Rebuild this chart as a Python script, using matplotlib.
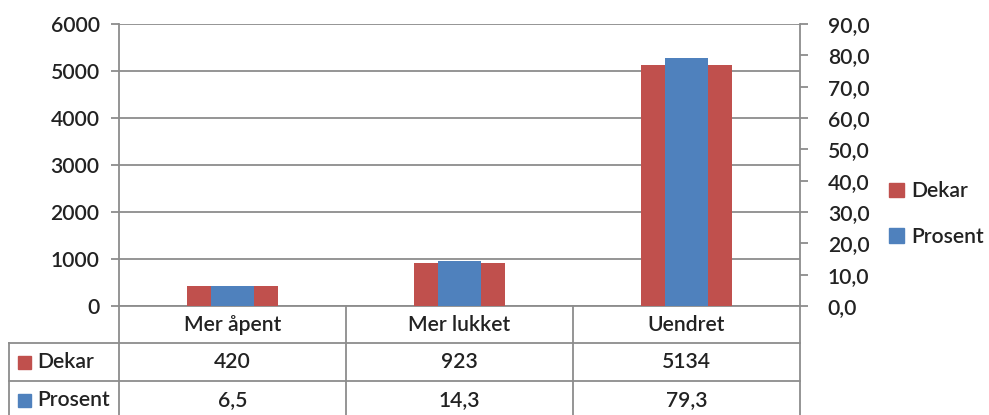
import matplotlib
matplotlib.use("Agg")
import matplotlib.pyplot as plt
from matplotlib.patches import Patch, Rectangle
import numpy as np

categories = ["Mer åpent", "Mer lukket", "Uendret"]
dekar = [420, 923, 5134]
prosent = [6.5, 14.3, 79.3]
dekar_labels = ["420", "923", "5134"]
prosent_labels = ["6,5", "14,3", "79,3"]
series_names = ["Dekar", "Prosent"]
left_ticks = [0, 1000, 2000, 3000, 4000, 5000, 6000]
right_ticks = [0, 10, 20, 30, 40, 50, 60, 70, 80, 90]

RED = "#C0504D"
BLUE = "#4F81BD"
GRID = "#8c8c8c"
TXT = "#222222"

plt.rcParams['font.family'] = ['Lato', 'DejaVu Sans']
plt.rcParams['font.weight'] = 'semibold'
FS = 15.2

W, H = 989, 415
fig = plt.figure(figsize=(W / 100, H / 100), dpi=100)
x0, x1, ytop, ybot = 119, 800, 24, 306
ax = fig.add_axes([x0 / W, 1 - ybot / H, (x1 - x0) / W, (ybot - ytop) / H])
ax2 = ax.twinx()

x = np.arange(len(categories))
ax.bar(x, dekar, width=0.4, color=RED, zorder=3)
ax2.bar(x, prosent, width=0.19, color=BLUE, zorder=3)

ax.set_xlim(-0.5, len(categories) - 0.5)
ax.set_ylim(0, 6000)
ax2.set_ylim(0, 90)
ax.set_yticks(left_ticks)
ax.set_yticklabels([str(t) for t in left_ticks])
ax2.set_yticks(right_ticks)
ax2.set_yticklabels([f"{t:.1f}".replace(".", ",") for t in right_ticks])
ax.set_xticks([])
ax.yaxis.grid(True, color=GRID, lw=1.3, zorder=0)
ax.set_axisbelow(True)

for a in (ax, ax2):
    for s in a.spines.values():
        s.set_visible(False)
    a.tick_params(axis='y', direction='out', length=6, width=1.3, color=GRID,
                  labelsize=FS, labelcolor=TXT, pad=8)
ax2.tick_params(axis='y', pad=14)
ax2.spines['right'].set_visible(True)
ax2.spines['right'].set_color(GRID)
ax2.spines['right'].set_linewidth(1.3)
ax.spines['left'].set_visible(True)
ax.spines['left'].set_color(GRID)
ax.spines['left'].set_linewidth(1.3)
ax.spines['bottom'].set_visible(True)
ax.spines['bottom'].set_color(GRID)
ax.spines['bottom'].set_linewidth(1.3)

ah = ybot - ytop
aw = x1 - x0
def ay(py):
    return (ybot - py) / ah
def axx(px):
    return (px - x0) / aw

r1, r2, rb = ay(343), ay(381), ay(420)
lk = dict(color=GRID, lw=1.3, clip_on=False, transform=ax.transAxes, zorder=5)
ax.plot([axx(9), 1], [r1, r1], **lk)
ax.plot([axx(9), 1], [r2, r2], **lk)
ax.plot([0, 0], [0, rb], **lk)
ax.plot([1, 1], [0, rb], **lk)
ax.plot([axx(9), axx(9)], [r1, rb], **lk)
tr = ax.get_xaxis_transform()
for b in np.arange(len(categories) - 1) + 0.5:
    ax.plot([b, b], [0, rb], color=GRID, lw=1.3, clip_on=False, transform=tr, zorder=5)

cy, dy, py = ay(325), ay(362), ay(400)
for i, c in enumerate(categories):
    ax.text(i, cy, c, transform=tr, ha='center', va='center', fontsize=FS, color=TXT)
    ax.text(i, dy, dekar_labels[i], transform=tr, ha='center', va='center', fontsize=FS, color=TXT)
    ax.text(i, py, prosent_labels[i], transform=tr, ha='center', va='center', fontsize=FS, color=TXT)

for name, col, yy in [(series_names[0], RED, dy), (series_names[1], BLUE, py)]:
    sq = 13
    ax.add_patch(Rectangle((axx(18.5), yy - (sq / 2) / ah), sq / aw, sq / ah, color=col,
                           transform=ax.transAxes, clip_on=False, zorder=6))
    ax.text(axx(37), yy, name, transform=ax.transAxes, ha='left', va='center',
            fontsize=FS, color=TXT)

handles = [Patch(color=RED, label=series_names[0]), Patch(color=BLUE, label=series_names[1])]
fig.legend(handles=handles, loc='center left', bbox_to_anchor=(870 / W, 1 - 214 / H),
           frameon=False, fontsize=FS, handlelength=0.7, handleheight=0.7,
           handletextpad=0.35, labelspacing=1.2, labelcolor=TXT)

fig.savefig("out.png", dpi=100)
